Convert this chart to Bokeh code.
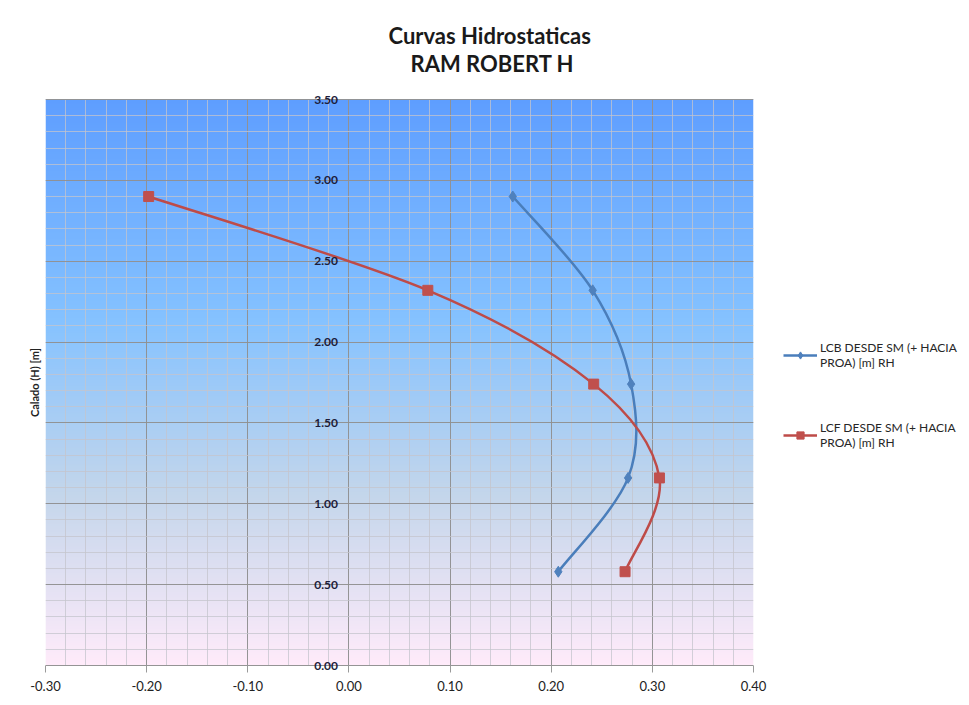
import numpy as np
from bokeh.plotting import figure
from bokeh.models import (SingleIntervalTicker, FixedTicker, Range1d, Legend, LegendItem,
                          Title, LabelSet, ColumnDataSource, NumeralTickFormatter)
from bokeh.core.properties import value
from bokeh.embed import file_html
from bokeh.resources import INLINE

# ---------------- data ----------------
draft = [0.58, 1.16, 1.74, 2.32, 2.90]
lcb = [0.207, 0.276, 0.279, 0.241, 0.162]
lcf = [0.273, 0.307, 0.242, 0.078, -0.198]
series_names = ["LCB DESDE SM (+ HACIA\nPROA) [m] RH",
                "LCF DESDE SM (+ HACIA\nPROA) [m] RH"]
title_lines = ["Curvas Hidrostaticas", "RAM ROBERT H"]
y_axis_title = "Calado (H) [m]"
x_ticks = [-0.30, -0.20, -0.10, 0.00, 0.10, 0.20, 0.30, 0.40]
y_ticks = [0.0, 0.5, 1.0, 1.5, 2.0, 2.5, 3.0, 3.5]
y_tick_labels = ["0.00", "0.50", "1.00", "1.50", "2.00", "2.50", "3.00", "3.50"]
x_min, x_max = -0.30, 0.40
y_min, y_max = 0.0, 3.5

FONT = "Lato"
PX_PER_Y = 566 / (y_max - y_min)   # frame pixels per y unit
PAD = 7 / PX_PER_Y                  # small room so edge labels are not clipped

p = figure(output_backend="svg", toolbar_location=None,
           frame_width=708, frame_height=566 + 14,
           min_border_left=45, min_border_right=208,
           min_border_top=92, min_border_bottom=25,
           x_range=Range1d(x_min, x_max),
           y_range=Range1d(y_min - PAD, y_max + PAD),
           background_fill_color="white", border_fill_color="white")
p.outline_line_color = None
p.title.visible = False

# ---------------- gradient background ----------------
stops = [(0.0, (255, 235, 250)), (0.30, (196, 214, 235)),
         (0.61, (133, 194, 255)), (1.0, (94, 158, 255))]
N = 400
img = np.zeros((N, 1), dtype=np.uint32)
view = img.view(dtype=np.uint8).reshape((N, 1, 4))
for i in range(N):
    f = i / (N - 1)
    for (f0, c0), (f1, c1) in zip(stops[:-1], stops[1:]):
        if f0 <= f <= f1:
            t = (f - f0) / (f1 - f0)
            c = [int(round(a + (b - a) * t)) for a, b in zip(c0, c1)]
            break
    view[i, 0, 0], view[i, 0, 1], view[i, 0, 2], view[i, 0, 3] = c[0], c[1], c[2], 255
bg = p.image_rgba(image=[img], x=x_min, y=y_min, dw=x_max - x_min, dh=y_max - y_min)
bg.level = "image"

# ---------------- grids ----------------
p.xgrid.ticker = SingleIntervalTicker(interval=0.1, num_minor_ticks=5)
p.ygrid.ticker = SingleIntervalTicker(interval=0.5, num_minor_ticks=5)
p.xgrid.cross_bounds = (y_min, y_max)
for g in (p.xgrid, p.ygrid):
    g.grid_line_color = "#8a8a8a"
    g.grid_line_alpha = 0.85
    g.minor_grid_line_color = "#c4c4cc"
    g.minor_grid_line_alpha = 0.75

# ---------------- axes ----------------
xa = p.xaxis[0]
xa.ticker = FixedTicker(ticks=x_ticks)
xa.formatter = NumeralTickFormatter(format="0.00")
xa.axis_line_color = None
xa.major_tick_line_color = "#9a9a9a"
xa.major_tick_in = 7
xa.major_tick_out = 0
xa.minor_tick_line_color = None
xa.major_label_text_font = FONT
xa.major_label_text_font_size = "13px"
xa.major_label_text_color = "#222222"
xa.major_label_standoff = 8

ya = p.yaxis[0]
ya.ticker = FixedTicker(ticks=[])
ya.major_tick_line_color = None
ya.minor_tick_line_color = None
ya.axis_line_color = None
ya.major_label_standoff = 0
ya.axis_label = y_axis_title
ya.axis_label_standoff = 5
ya.axis_label_text_font = FONT
ya.axis_label_text_font_size = "11px"
ya.axis_label_text_font_style = "bold"
ya.axis_label_text_color = "#222222"

# y tick labels drawn along x = 0 (as in the original)
ysrc = ColumnDataSource(dict(x=[0.0] * len(y_ticks), y=y_ticks, t=y_tick_labels))
p.add_layout(LabelSet(x="x", y="y", text="t", source=ysrc, x_offset=-11,
                      text_align="right", text_baseline="middle",
                      text_font=value(FONT), text_font_size="12px",
                      text_font_style="bold", text_color="#1c1c3a"))

# ---------------- smoothed series (Bezier through data points) ----------------
def bez(xs, ys):
    n = len(xs)
    out = dict(x0=[], y0=[], x1=[], y1=[], cx0=[], cy0=[], cx1=[], cy1=[])
    for i in range(n - 1):
        a = i - 1 if i > 0 else i
        d = i + 2 if i + 2 < n else i + 1
        out["x0"].append(xs[i]); out["y0"].append(ys[i])
        out["x1"].append(xs[i + 1]); out["y1"].append(ys[i + 1])
        out["cx0"].append(xs[i] + (xs[i + 1] - xs[a]) / 6)
        out["cy0"].append(ys[i] + (ys[i + 1] - ys[a]) / 6)
        out["cx1"].append(xs[i + 1] - (xs[d] - xs[i]) / 6)
        out["cy1"].append(ys[i + 1] - (ys[d] - ys[i]) / 6)
    return out

BLUE_LINE, BLUE_MARK = "#4A7EBB", "#4F81BD"
RED_LINE, RED_MARK = "#BE4B48", "#C0504D"

items = []
for xs, name, lc, mc, marker, size in [
        (lcb, series_names[0], BLUE_LINE, BLUE_MARK, "diamond", 11),
        (lcf, series_names[1], RED_LINE, RED_MARK, "square", 10)]:
    br = p.bezier(source=ColumnDataSource(bez(xs, draft)), x0="x0", y0="y0", x1="x1", y1="y1",
                  cx0="cx0", cy0="cy0", cx1="cx1", cy1="cy1", line_color=lc, line_width=2.5)
    sr = p.scatter(x=xs, y=draft, marker=marker, size=size, fill_color=mc, line_color=mc)
    items.append(LegendItem(label=name, renderers=[br, sr]))

legend = Legend(items=items, location=(30, 222), orientation="vertical",
                glyph_width=34, glyph_height=18, label_standoff=3, spacing=50,
                padding=0, margin=0, border_line_color=None,
                background_fill_alpha=0,
                label_text_font=FONT, label_text_font_size="12px",
                label_text_color="#262626")
p.add_layout(legend, "right")

# ---------------- titles ----------------
p.add_layout(Title(text=title_lines[1], align="left", offset=365, standoff=32,
                   text_font=FONT, text_font_size="22px", text_font_style="bold",
                   text_color="#1a1a1a"), "above")
p.add_layout(Title(text=title_lines[0], align="left", offset=343, standoff=-34,
                   text_font=FONT, text_font_size="22px", text_font_style="bold",
                   text_color="#1a1a1a"), "above")

open("out.html", "w").write(file_html(p, INLINE))
